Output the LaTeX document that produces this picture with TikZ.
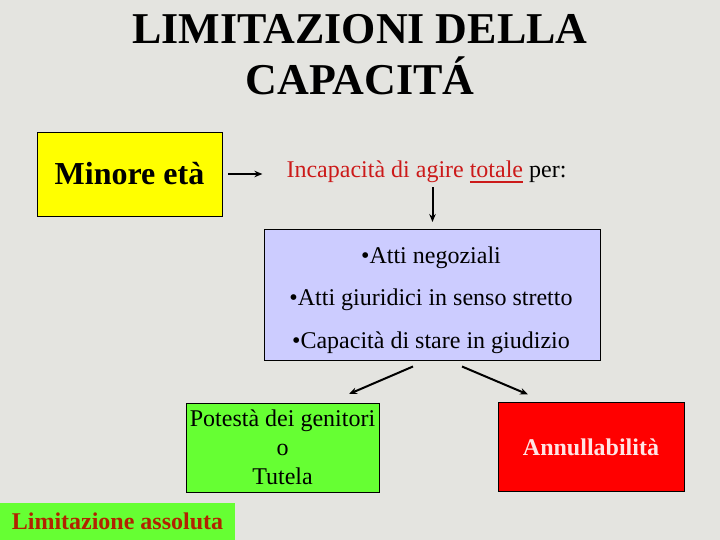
\documentclass[tikz,border=0pt]{standalone}
\usepackage{fontspec}
\setmainfont{Liberation Serif}
\usepackage{tikz}
\usetikzlibrary{arrows,arrows.meta,positioning,calc}
\definecolor{bgColor}{HTML}{E4E4E0}
\definecolor{yelColor}{HTML}{FFFF00}
\definecolor{bluColor}{HTML}{CCCCFF}
\definecolor{grnColor}{HTML}{66FF33}
\definecolor{redColor}{HTML}{FF0000}
\definecolor{incColor}{HTML}{CC1A1A}
\definecolor{limColor}{HTML}{B22200}
\definecolor{annColor}{HTML}{FFE4E4}
\newcommand{\fsz}[2]{\fontsize{#1}{#2}\selectfont}
\newcommand{\ulthick}[1]{\setbox0\hbox{#1}\rlap{\rule[-5pt]{\wd0}{2pt}}\box0}
\tikzset{
	box/.style={draw, line width=0.75pt, inner sep=0, outer sep=0, align=center},
	titletext/.style={font=\bfseries\fsz{44}{51}, anchor=base, inner sep=0},
	arr/.style={-{Stealth[length=8pt,width=6.5pt]}, line width=2pt}
}

\begin{document}
\begin{tikzpicture}[x=1pt, y=-1pt]
				
				\fill[bgColor] (0,0) rectangle (720,540);
				
				\node[titletext] (title1) at (360,44) {LIMITAZIONI DELLA};
				\node[titletext] (title2) at (360,95) {CAPACITÁ};
				
				\node[box, fill=yelColor, minimum width=185pt, minimum height=84pt, font=\bfseries\fsz{32}{38}] (minore) at (129.5,174) {Minore età};
				\node[anchor=base, inner sep=0, font=\fsz{24}{29}] (incap) at (426.5,178) {\textcolor{incColor}{Incapacità di agire \ulthick{totale}} per:};
				
				\node[box, fill=bluColor, minimum width=336pt, minimum height=131pt] (atti) at (432.5,294.5) {};
				\node[align=center, inner sep=0, font=\fsz{24}{42.5}] (attiTxt) at (431,300) {%
					•Atti negoziali \\ •Atti giuridici in senso stretto \\ •Capacità di stare in giudizio};
				
				\node[box, fill=grnColor, minimum width=193pt, minimum height=89pt, font=\fsz{24}{29}] (potesta) at (282.5,447.5) {Potestà dei genitori \\ o \\ Tutela};
				\node[box, fill=redColor, minimum width=186pt, minimum height=89pt, font=\bfseries\fsz{24}{29}, text=annColor] (annull) at (591,447) {Annullabilità};
				\node[fill=grnColor, inner sep=0, minimum width=235pt, minimum height=37pt, font=\bfseries\fsz{24}{29}, text=limColor] (limit) at (117.5,521.5) {Limitazione assoluta};
				
				\draw[arr, shorten <=6pt, shorten >=24pt] (minore) -- (minore -| incap.west);
				\draw[arr, shorten <=4pt, shorten >=7pt] (incap.south -| atti) -- (atti);
				\draw[arr] ([shift={(-19.5,6.5)}]atti.south) -- ([shift={(66.5,-9)}]potesta.north);
				\draw[arr] ([shift={(29.5,6.5)}]atti.south) -- ([shift={(-63,-8)}]annull.north);
\end{tikzpicture}
\end{document}
